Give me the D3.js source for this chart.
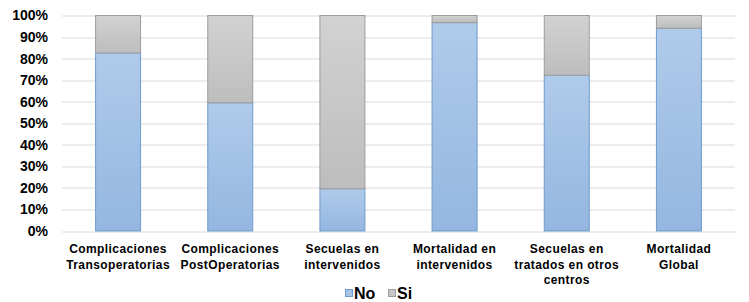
<!DOCTYPE html>
<html lang="es">
<head>
    <meta charset="UTF-8">
    <title>No / Si</title>
    <script src="https://d3js.org/d3.v7.min.js"></script>
    <style>
        body, html {
            margin: 0;
            padding: 0;
            background: #ffffff;
            font-family: 'Liberation Sans', Arial, sans-serif;
        }
        svg { display: block; }
    </style>
</head>
<body>
<svg id="chart" width="749" height="302"></svg>
<script>
    // chart data
    const categories = [
        ['Complicaciones', 'Transoperatorias'],
        ['Complicaciones', 'PostOperatorias'],
        ['Secuelas en', 'intervenidos'],
        ['Mortalidad en', 'intervenidos'],
        ['Secuelas en', 'tratados en otros', 'centros'],
        ['Mortalidad', 'Global']
    ];
    const seriesNames = ['No', 'Si'];
    const noValues = [82.6, 59.5, 19.6, 96.7, 72.3, 94.1];
    const siValues = [17.4, 40.5, 80.4, 3.3, 27.7, 5.9];
    const yTicks = [0, 10, 20, 30, 40, 50, 60, 70, 80, 90, 100];

    const svg = d3.select('#chart');
    const margin = { top: 15.5, right: 14, bottom: 71, left: 62 };
    const width = +svg.attr('width') - margin.left - margin.right;
    const height = +svg.attr('height') - margin.top - margin.bottom;

    const defs = svg.append('defs');
    const gradBlue = defs.append('linearGradient').attr('id', 'gBlue')
        .attr('x1', 0).attr('y1', 0).attr('x2', 0).attr('y2', 1);
    gradBlue.append('stop').attr('offset', '0%').attr('stop-color', '#b0cbea');
    gradBlue.append('stop').attr('offset', '100%').attr('stop-color', '#94b6e0');
    const gradGray = defs.append('linearGradient').attr('id', 'gGray')
        .attr('x1', 0).attr('y1', 0).attr('x2', 0).attr('y2', 1);
    gradGray.append('stop').attr('offset', '0%').attr('stop-color', '#d2d2d2');
    gradGray.append('stop').attr('offset', '100%').attr('stop-color', '#bdbdbd');

    const fills = { No: 'url(#gBlue)', Si: 'url(#gGray)' };
    const strokes = { No: '#6f9bcd', Si: '#9c9c9c' };
    const legendFills = { No: '#a6c4e8', Si: '#c6c6c6' };

    const x = d3.scaleBand()
        .domain(d3.range(categories.length))
        .range([0, width])
        .paddingInner(0.59)
        .paddingOuter(0.295);
    const y = d3.scaleLinear().domain([0, 100]).range([height, 0]);

    const g = svg.append('g').attr('transform', `translate(${margin.left},${margin.top})`);

    // gridlines
    g.append('g')
        .selectAll('line')
        .data(yTicks)
        .join('line')
        .attr('x1', 0)
        .attr('x2', width)
        .attr('y1', d => Math.round(y(d)) + 0.5)
        .attr('y2', d => Math.round(y(d)) + 0.5)
        .attr('stroke', '#d9d9d9')
        .attr('stroke-width', 1);

    // y axis labels
    const yAxis = g.append('g')
        .call(d3.axisLeft(y).tickValues(yTicks).tickFormat(d => d + '%').tickSize(0).tickPadding(14));
    yAxis.select('.domain').remove();
    yAxis.selectAll('text')
        .attr('font-family', "'Liberation Sans', Arial, sans-serif")
        .attr('font-size', '14px')
        .attr('font-weight', 'bold')
        .attr('fill', '#000');

    // stacked data
    const rows = categories.map((c, i) => ({ idx: i, No: noValues[i], Si: siValues[i] }));
    const stacked = d3.stack().keys(seriesNames)(rows);

    g.append('g')
        .selectAll('g')
        .data(stacked)
        .join('g')
        .each(function (layer) {
            d3.select(this).selectAll('rect')
                .data(layer)
                .join('rect')
                .attr('x', d => x(d.data.idx) + 0.5)
                .attr('y', d => y(d[1]))
                .attr('width', x.bandwidth() - 1)
                .attr('height', d => y(d[0]) - y(d[1]))
                .attr('fill', fills[layer.key])
                .attr('stroke', strokes[layer.key])
                .attr('stroke-width', 1);
        });

    // category labels
    const labels = g.append('g')
        .selectAll('text')
        .data(categories)
        .join('text')
        .attr('x', (d, i) => x(i) + x.bandwidth() / 2)
        .attr('y', height + 22)
        .attr('text-anchor', 'middle')
        .attr('font-family', "'Liberation Sans', Arial, sans-serif")
        .attr('font-size', '12px')
        .attr('font-weight', 'bold')
        .attr('letter-spacing', '0.4px')
        .attr('fill', '#000');
    labels.each(function (lines) {
        d3.select(this).selectAll('tspan')
            .data(lines)
            .join('tspan')
            .attr('x', d3.select(this).attr('x'))
            .attr('dy', (d, j) => j === 0 ? 0 : 15.5)
            .text(d => d);
    });

    // legend
    const legend = svg.append('g').attr('transform', 'translate(345,289)');
    const legendX = [0, 43];
    seriesNames.forEach((name, i) => {
        const item = legend.append('g').attr('transform', `translate(${legendX[i]},0)`);
        item.append('rect')
            .attr('x', 0.5).attr('y', 0.5)
            .attr('width', 7).attr('height', 7)
            .attr('fill', legendFills[name])
            .attr('stroke', strokes[name]);
        item.append('text')
            .attr('x', 9)
            .attr('y', 9.5)
            .attr('font-family', "'Liberation Sans', Arial, sans-serif")
            .attr('font-size', '16px')
            .attr('font-weight', 'bold')
            .attr('fill', '#000')
            .text(name);
    });
</script>
</body>
</html>
